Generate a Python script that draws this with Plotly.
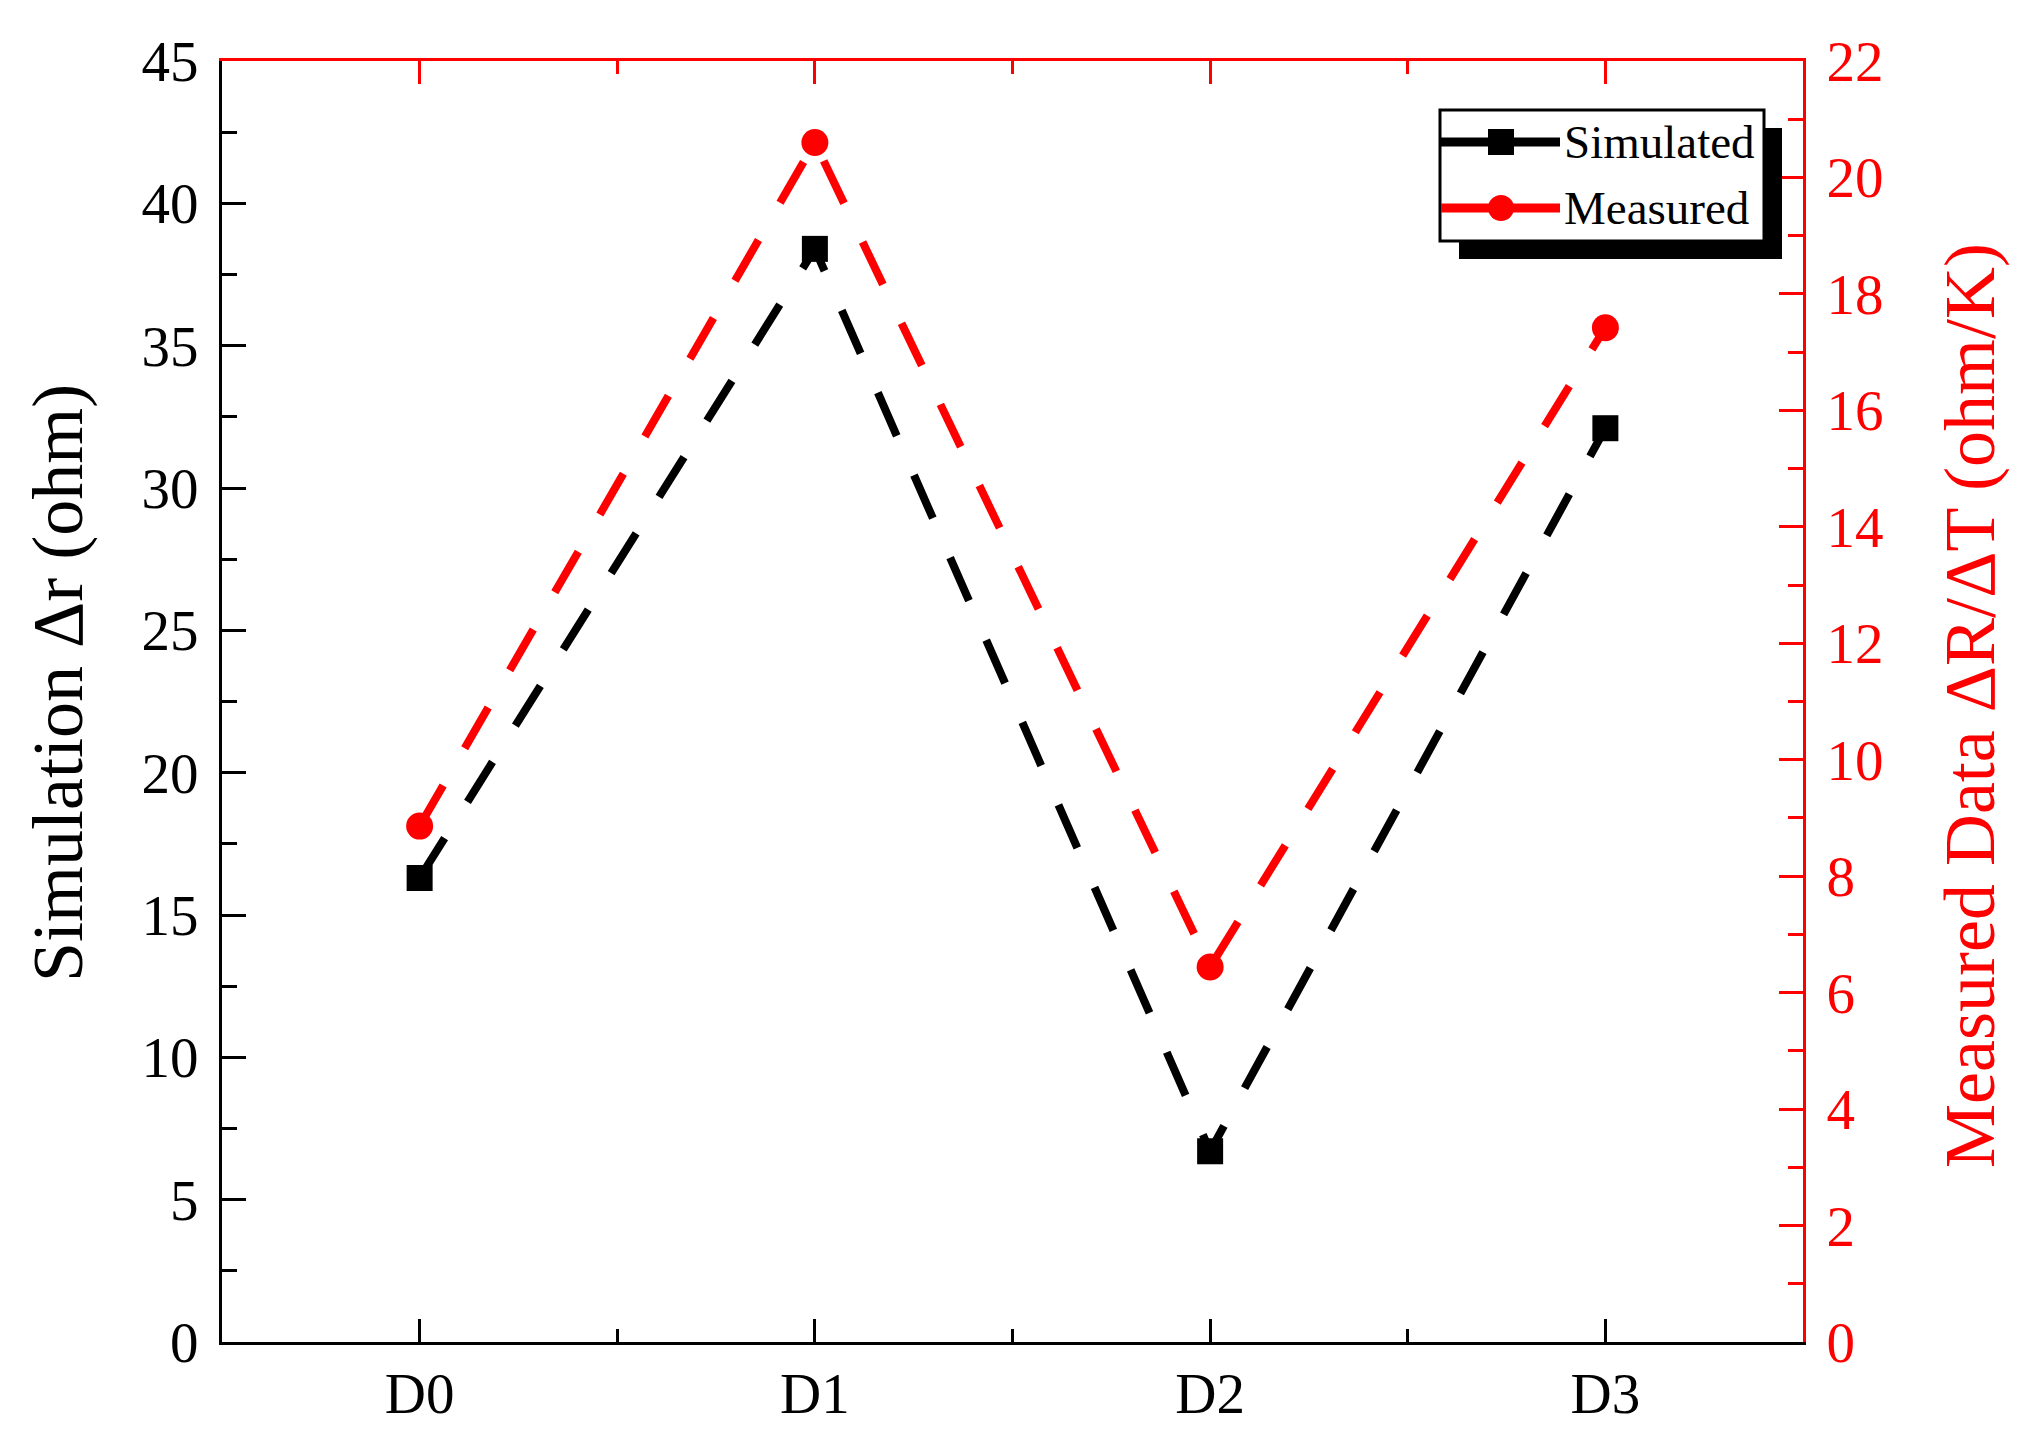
import plotly.graph_objects as go

categories = ["D0", "D1", "D2", "D3"]
simulated = [16.3, 38.4, 6.7, 32.1]
measured = [8.86, 20.6, 6.44, 17.42]
left_range = [0, 45]
right_range = [0, 22]
legend_names = ["Simulated", "Measured"]
left_title = "Simulation \u0394r (ohm)"
right_title = "Measured Data \u0394R/\u0394T (ohm/K)"

# page body has an 8px default margin; compensate so the frame lands where intended
OFF = 8
W, H = 2032 - OFF, 1438 - OFF
L, R, T, B = 222 - OFF, 1803 - OFF, 61 - OFF, 1342 - OFF
FONT = "Liberation Serif"
RED = "#ff0000"

xpos = list(range(len(categories)))
minor_x = [i + 0.5 for i in xpos[:-1]]

def px(x):
    """page pixel x -> paper coordinate"""
    return (x - OFF - L) / (R - L)

def py(y):
    """page pixel y -> paper coordinate"""
    return (B - (y - OFF)) / (B - T)

DASH = "47px,43px"

fig = go.Figure()
fig.add_trace(go.Scatter(
    x=xpos, y=simulated, mode="lines+markers", name=legend_names[0],
    line=dict(color="black", width=8, dash=DASH),
    marker=dict(symbol="square", size=26, color="black"),
    xaxis="x", yaxis="y", showlegend=False))
fig.add_trace(go.Scatter(
    x=xpos, y=measured, mode="lines+markers", name=legend_names[1],
    line=dict(color=RED, width=8, dash=DASH),
    marker=dict(symbol="circle", size=27, color=RED),
    xaxis="x2", yaxis="y2", showlegend=False))

common_x = dict(range=[-0.5, len(categories) - 0.5], tickmode="array", tickvals=xpos,
                ticks="inside", ticklen=23, tickwidth=3, showline=True, linewidth=3,
                showgrid=False, zeroline=False, automargin=False,
                minor=dict(tickvals=minor_x, ticks="inside", ticklen=13, tickwidth=3))

fig.update_layout(
    template="none",
    width=W, height=H, autosize=False,
    margin=dict(l=L, r=W - R, t=T, b=H - B, pad=0),
    plot_bgcolor="white", paper_bgcolor="white",
    font=dict(family=FONT, color="black"),
    xaxis=dict(**common_x, ticktext=categories, tickcolor="black", linecolor="black",
               tickfont=dict(size=57, family=FONT, color="black"),
               ticklabelstandoff=0, anchor="y"),
    xaxis2=dict(**common_x, overlaying="x", side="top", anchor="y", showticklabels=False,
                tickcolor=RED, linecolor=RED),
    yaxis=dict(range=left_range, tickmode="linear", tick0=0, dtick=5,
               ticks="inside", ticklen=24, tickwidth=3, tickcolor="black",
               showline=True, linewidth=3, linecolor="black",
               showgrid=False, zeroline=False, automargin=False,
               minor=dict(tick0=0, dtick=2.5, ticks="inside", ticklen=15, tickwidth=3, tickcolor="black"),
               tickfont=dict(size=57, family=FONT, color="black"),
               ticklabelstandoff=9),
    yaxis2=dict(range=right_range, tickmode="linear", tick0=0, dtick=2, overlaying="y", side="right",
                anchor="x", automargin=False,
                ticks="inside", ticklen=24, tickwidth=3, tickcolor=RED,
                showline=True, linewidth=3, linecolor=RED,
                showgrid=False, zeroline=False,
                minor=dict(tick0=0, dtick=1, ticks="inside", ticklen=15, tickwidth=3, tickcolor=RED),
                tickfont=dict(size=57, family=FONT, color=RED),
                ticklabelstandoff=9),
)

# Axis titles as rotated annotations
fig.add_annotation(x=px(58), y=py(683), xref="paper", yref="paper", text=left_title,
                   textangle=-90, showarrow=False, xanchor="center", yanchor="middle",
                   font=dict(size=72, family=FONT, color="black"))
fig.add_annotation(x=px(1970), y=py(706), xref="paper", yref="paper", text=right_title,
                   textangle=-90, showarrow=False, xanchor="center", yanchor="middle",
                   font=dict(size=72, family=FONT, color=RED))

# Manual legend box with drop shadow
shapes = []
shapes.append(dict(type="rect", xref="paper", yref="paper",
                   x0=px(1459), x1=px(1782), y0=py(259), y1=py(128),
                   fillcolor="black", line=dict(width=0)))
shapes.append(dict(type="rect", xref="paper", yref="paper",
                   x0=px(1440), x1=px(1764), y0=py(241), y1=py(110),
                   fillcolor="white", line=dict(color="black", width=3)))
rows = [(142, "black", "square"), (208, RED, "circle")]
for ry, col, sym in rows:
    shapes.append(dict(type="line", xref="paper", yref="paper",
                       x0=px(1441), x1=px(1560), y0=py(ry), y1=py(ry),
                       line=dict(color=col, width=9)))
    s = 13
    shapes.append(dict(type="rect" if sym == "square" else "circle", xref="paper", yref="paper",
                       x0=px(1501 - s), x1=px(1501 + s), y0=py(ry + s), y1=py(ry - s),
                       fillcolor=col, line=dict(width=0)))
fig.update_layout(shapes=shapes)

for (ry, col, sym), name in zip(rows, legend_names):
    fig.add_annotation(x=px(1562), y=py(ry), xref="paper", yref="paper", text=name,
                       showarrow=False, xanchor="left", yanchor="middle",
                       font=dict(size=47, family=FONT, color="black"))

fig.write_html("out.html")
